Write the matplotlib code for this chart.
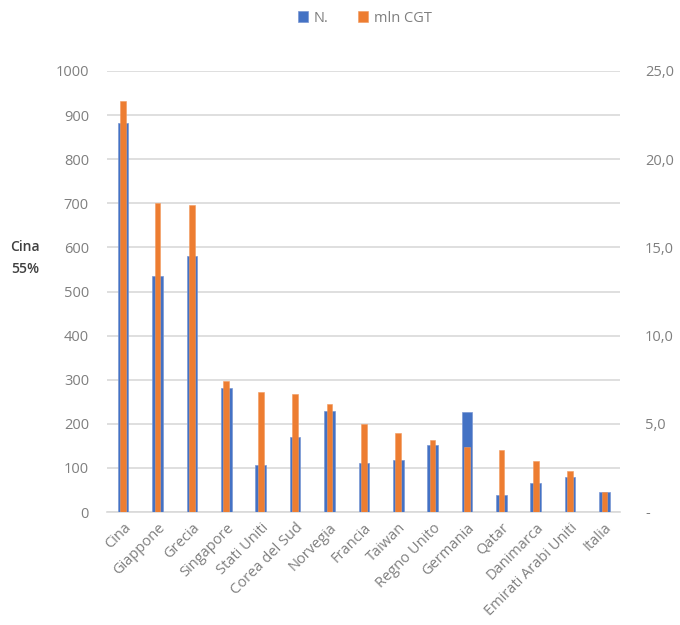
import matplotlib
matplotlib.use("Agg")
import matplotlib.pyplot as plt
import numpy as np

plt.rcParams['font.family'] = ['Open Sans', 'DejaVu Sans']

countries = ["Cina", "Giappone", "Grecia", "Singapore", "Stati Uniti", "Corea del Sud",
             "Norvegia", "Francia", "Taiwan", "Regno Unito", "Germania", "Qatar",
             "Danimarca", "Emirati Arabi Uniti", "Italia"]
n_ships = [882, 535, 580, 281, 107, 169, 228, 112, 118, 152, 227, 39, 65, 79, 46]
mln_cgt = [23.3, 17.5, 17.4, 7.4, 6.8, 6.7, 6.1, 5.0, 4.5, 4.1, 3.7, 3.5, 2.9, 2.3, 1.16]

left_ticks = [0, 100, 200, 300, 400, 500, 600, 700, 800, 900, 1000]
right_ticks = [0, 5, 10, 15, 20, 25]
right_labels = ["-", "5,0", "10,0", "15,0", "20,0", "25,0"]

BLUE = "#4472C4"
ORANGE = "#ED7D31"
TXT = "#7F7F7F"
GRID = "#D9D9D9"

fig = plt.figure(figsize=(6.8, 6.25), dpi=100)
ax = fig.add_axes([107/680, 1-512/625, (620-107)/680, (512-71)/625])
ax2 = ax.twinx()

x = np.arange(len(countries))
ax.bar(x, n_ships, width=0.31, color=BLUE, edgecolor="#7A97D4", linewidth=0.5, zorder=3, label="N.")
ax2.bar(x, mln_cgt, width=0.165, color=ORANGE, edgecolor="#F29A5E", linewidth=0.4, zorder=3, label="mln CGT")

ax.set_ylim(0, 1000)
ax2.set_ylim(0, 25)
ax.set_xlim(-0.47, len(countries) - 0.55)

ax.set_yticks(left_ticks)
ax.set_yticklabels([str(t) for t in left_ticks], color=TXT, fontsize=10.5)
ax2.set_yticks(right_ticks)
ax2.set_yticklabels(right_labels, color=TXT, fontsize=10.5)
ax.tick_params(axis='y', length=0, pad=13)
ax2.tick_params(axis='y', length=0, pad=18)

ax.set_xticks(x)
ax.set_xticklabels(countries, rotation=45, ha='right', va='top', rotation_mode='anchor',
                   color=TXT, fontsize=10.5)
ax.tick_params(axis='x', length=0, pad=6)

ax.grid(axis='y', color=GRID, linewidth=1.2, zorder=0)
ax.set_axisbelow(True)
for a in (ax, ax2):
    for s in a.spines.values():
        s.set_visible(False)
ax.spines['bottom'].set_visible(True)
ax.spines['bottom'].set_color(GRID)
ax.spines['bottom'].set_linewidth(1.2)
ax2.set_zorder(ax.get_zorder() + 1)
ax2.patch.set_visible(False)

fig.text(25/680, 1-247/625, "Cina", ha='center', va='center', fontsize=10, color="#404040", fontweight='semibold')
fig.text(25/680, 1-269/625, "55%", ha='center', va='center', fontsize=10, color="#404040", fontweight='semibold')

h1, l1 = ax.get_legend_handles_labels()
h2, l2 = ax2.get_legend_handles_labels()
leg = fig.legend(h1 + h2, l1 + l2, loc='center', bbox_to_anchor=(365/680, 1-18/625), ncol=2,
                 frameon=False, fontsize=10.5, handlelength=0.7, handleheight=0.7,
                 columnspacing=2.0, handletextpad=0.4, labelcolor=TXT)

fig.savefig("out.png", dpi=100, facecolor="white")
